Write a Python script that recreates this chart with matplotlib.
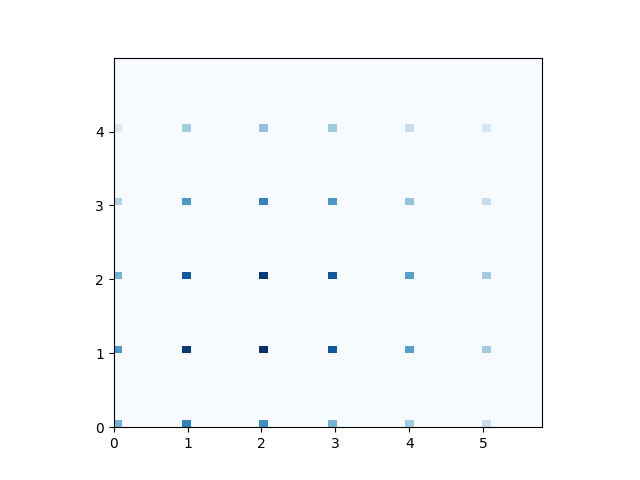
import numpy as np
import matplotlib
matplotlib.use("Agg")
import matplotlib.pyplot as plt

# grid positions and counts (rows y=0..4, columns x=0..5)
xs = [0, 1, 2, 3, 4, 5]
ys = [0, 1, 2, 3, 4]
counts = [
    [12, 17, 16, 12, 9, 6],   # y = 0
    [15, 24, 25, 21, 14, 9],  # y = 1
    [12, 21, 24, 21, 14, 9],  # y = 2
    [8, 15, 17, 15, 10, 6],   # y = 3
    [4, 9, 10, 9, 6, 4],      # y = 4
]

x = []
y = []
w = []
for j, yy in enumerate(ys):
    for i, xx in enumerate(xs):
        x.append(xx)
        y.append(yy)
        w.append(counts[j][i])

fig, ax = plt.subplots(figsize=(6.4, 4.8), dpi=100)
ax.hist2d(x, y, bins=50, range=[[0, 5.8], [0, 5]], weights=w, cmap='Blues')
ax.set_aspect('equal')
ax.set_yticks([0, 1, 2, 3, 4])

plt.savefig('out.png')
